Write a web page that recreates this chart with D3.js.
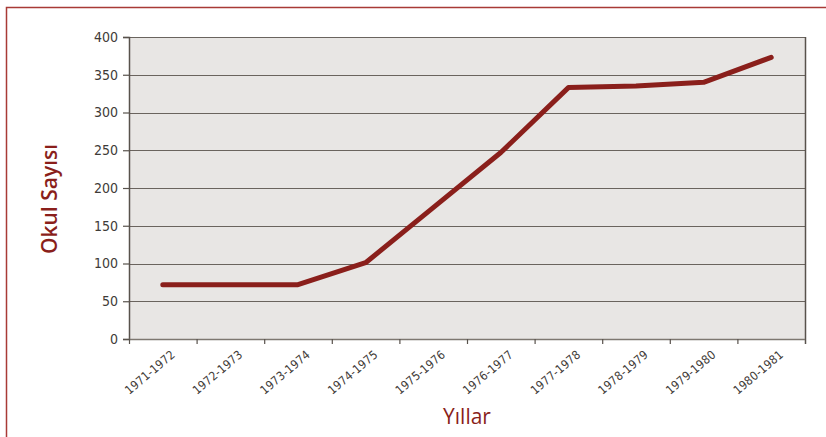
<!DOCTYPE html>
<html>
<head>
<meta charset="utf-8">
<script src="https://cdn.jsdelivr.net/npm/d3@7"></script>
<style>
    body { margin: 0; background: #fff; }
    svg { display: block; }
</style>
</head>
<body>
<div id="chart"></div>
<script>
// data
const years = ['1971-1972', '1972-1973', '1973-1974', '1974-1975', '1975-1976',
    '1976-1977', '1977-1978', '1978-1979', '1979-1980', '1980-1981'];
const schools = [72, 72, 72, 101, 174, 247, 333, 335, 340, 373];
const yTicks = [0, 50, 100, 150, 200, 250, 300, 350, 400];

const width = 826;
const height = 437;
const margin = { top: 37, right: 21, bottom: 98, left: 129 };
const w = width - margin.left - margin.right;
const h = height - margin.top - margin.bottom;

const red = '#8a1f1b';
const axisColor = '#58524c';
const font = '"Liberation Sans Narrow", "DejaVu Sans Condensed", Roboto, sans-serif';
const titleFont = '"Open Sans", "Noto Sans", sans-serif';

const svg = d3.select('#chart').append('svg')
    .attr('width', width)
    .attr('height', height);

// outer frame
svg.append('rect')
    .attr('x', 6.5).attr('y', 7.5)
    .attr('width', width + 10).attr('height', height + 10)
    .attr('fill', 'none')
    .attr('stroke', '#a83a36')
    .attr('stroke-width', 1.5);

const chart = svg.append('g')
    .attr('transform', `translate(${margin.left},${margin.top})`);

const x = d3.scaleBand().domain(years).range([0, w]);
const y = d3.scaleLinear().domain([0, 400]).range([h, 0]);

chart.append('rect')
    .attr('width', w).attr('height', h)
    .attr('fill', '#e8e6e4');

// grid lines
chart.selectAll('.grid')
    .data(yTicks.filter(d => d > 0))
    .join('line')
    .attr('class', 'grid')
    .attr('x1', 0).attr('x2', w)
    .attr('y1', d => Math.round(y(d)) + 0.5)
    .attr('y2', d => Math.round(y(d)) + 0.5)
    .attr('stroke', '#6a645e')
    .attr('stroke-width', 1.2);

// right border
chart.append('line')
    .attr('x1', w + 0.5).attr('x2', w + 0.5)
    .attr('y1', 0).attr('y2', h + 5)
    .attr('stroke', axisColor)
    .attr('stroke-width', 1.5);

// y axis
const yAxis = chart.append('g')
    .call(d3.axisLeft(y).tickValues(yTicks).tickSize(6).tickPadding(5));
yAxis.select('.domain').attr('stroke', axisColor).attr('stroke-width', 1.5);
yAxis.selectAll('.tick line').attr('stroke', axisColor).attr('stroke-width', 1.2);
yAxis.selectAll('.tick text')
    .attr('fill', '#3f3b38')
    .style('font-family', font)
    .style('font-size', '14px');

// x axis: ticks on band boundaries
const xAxis = chart.append('g')
    .attr('transform', `translate(0,${h})`);
xAxis.append('line')
    .attr('x1', 0).attr('x2', w)
    .attr('y1', 0.5).attr('y2', 0.5)
    .attr('stroke', '#7d7770')
    .attr('stroke-width', 1.5);
xAxis.selectAll('.xtick')
    .data(years)
    .join('line')
    .attr('class', 'xtick')
    .attr('x1', d => x(d) + 0.5).attr('x2', d => x(d) + 0.5)
    .attr('y1', 0).attr('y2', 5)
    .attr('stroke', axisColor)
    .attr('stroke-width', 1.2);
xAxis.selectAll('.xlabel')
    .data(years)
    .join('text')
    .attr('class', 'xlabel')
    .attr('transform', d => `translate(${x(d) + x.bandwidth() / 2 + 13},${17}) rotate(-40)`)
    .attr('text-anchor', 'end')
    .attr('fill', '#3f3b38')
    .style('font-family', font)
    .style('font-size', '12px')
    .style('letter-spacing', '0.2px')
    .text(d => d);

// line
const line = d3.line()
    .x((d, i) => x(years[i]) + x.bandwidth() / 2)
    .y(d => y(d));

chart.append('path')
    .datum(schools)
    .attr('d', line)
    .attr('fill', 'none')
    .attr('stroke', red)
    .attr('stroke-width', 5)
    .attr('stroke-linecap', 'round')
    .attr('stroke-linejoin', 'round');

// axis titles
svg.append('text')
    .attr('transform', `translate(57,199) rotate(-90)`)
    .attr('text-anchor', 'middle')
    .attr('fill', red)
    .style('font-family', titleFont)
    .style('font-weight', 600)
    .style('font-size', '21px')
    .text('Okul Sayısı');

svg.append('text')
    .attr('x', margin.left + w / 2)
    .attr('y', 424)
    .attr('text-anchor', 'middle')
    .attr('fill', red)
    .style('font-family', titleFont)
    .style('font-weight', 500)
    .style('font-size', '21px')
    .text('Yıllar');
</script>
</body>
</html>
